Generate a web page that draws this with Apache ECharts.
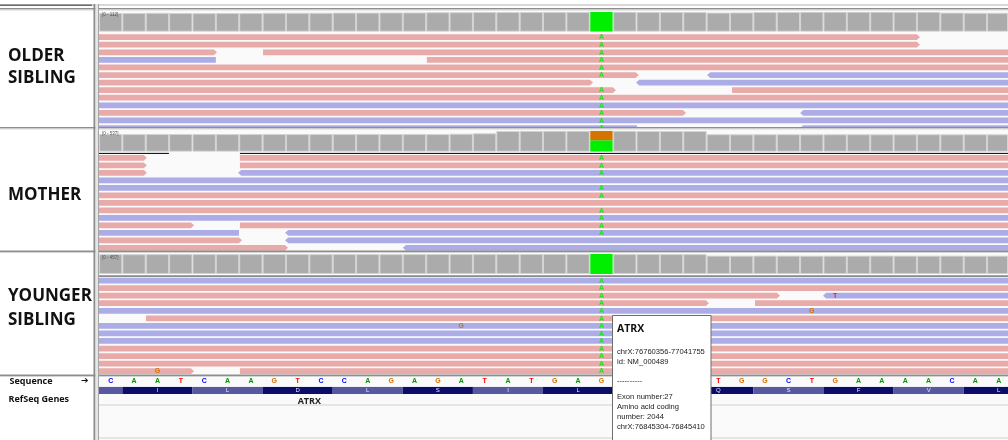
<!DOCTYPE html>
<html><head><meta charset="utf-8">
<script src="https://cdn.jsdelivr.net/npm/echarts@6/dist/echarts.min.js"></script>
<style>html,body{margin:0;padding:0;background:#fff}#c{width:1008px;height:440px}</style>
</head><body><div id="c"></div>
<script>
// ---------------- data ----------------
const panelNames = [['OLDER', 'SIBLING'], ['MOTHER'], ['YOUNGER', 'SIBLING']];
const coverageRanges = [112, 537, 457];
const coverageRangeLabels = ['[0 - 112]', '[0 - 537]', '[0 - 457]'];
const referenceSequence = ['C','A','A','T','C','A','A','G','T','C','C','A','G','A','G','A','T','A','T','G','A','G','T','G','C','T','T','G','G','C','T','G','A','A','A','A','C','A','A'];
// codon k covers bases -2+3k .. 3k
const aminoAcids = ['', 'I', 'L', 'D', 'L', 'S', 'I', 'L', 'A', 'Q', 'S', 'F', 'V', 'L'];
const variantBase = 21;
const olderCoverage = [105,105,106,105,104,105,105,106,106,106,107,107,108,108,109,109,110,110,111,111,111,112,112,111,111,110,107,108,111,111,112,112,112,112,111,112,107,106,106];
const motherCoverage = [452,450,452,453,451,450,452,452,451,452,450,452,453,452,451,460,470,530,534,536,537,537,535,532,530,528,447,445,446,447,445,446,446,445,444,446,445,446,445];
const youngerCoverage = [452,453,454,455,455,454,455,456,455,454,456,455,454,455,456,455,455,456,456,457,456,457,455,456,455,454,420,419,421,420,418,419,420,421,420,419,420,418,419];
// allele split of the variant column: [from, to, base]
const olderAlleles = [[0, 112, 'A']];
const motherAlleles = [[0, 292, 'A'], [292, 537, 'G']];
const youngerAlleles = [[0, 457, 'A']];
// reads: [start, end, row, strand (1 forward, -1 reverse)]
const olderReads = [
  [-1, 35.13, 0, 1],
  [-1, 35.13, 1, 1],
  [-1, 5.05, 2, 1], [7.02, 40, 2, 1],
  [-1, 5.0, 3, -1], [14.03, 40, 3, 1],
  [-1, 40, 4, 1],
  [-1, 23.1, 5, 1], [26.02, 40, 5, -1],
  [-1, 21.14, 6, 1], [22.98, 40, 6, -1],
  [-1, 22.12, 7, 1], [27.09, 40, 7, 1],
  [-1, 40, 8, 1],
  [-1, 40, 9, -1],
  [-1, 25.12, 10, 1], [30.0, 40, 10, -1],
  [-1, 40, 11, -1],
  [-1, 23.02, 12, -1], [30.0, 40, 12, -1]
];
const motherReads = [
  [-1, 2.05, 0, 1], [6.03, 40, 0, 1],
  [-1, 2.05, 1, 1], [6.03, 40, 1, 1],
  [-1, 2.05, 2, 1], [5.95, 40, 2, -1],
  [-1, 40, 3, -1],
  [-1, 40, 4, -1],
  [-1, 40, 5, 1],
  [-1, 40, 6, 1],
  [-1, 40, 7, 1],
  [-1, 40, 8, -1],
  [-1, 4.07, 9, 1], [6.03, 40, 9, 1],
  [-1, 5.99, 10, -1], [7.96, 40, 10, -1],
  [-1, 6.12, 11, 1], [7.96, 40, 11, -1],
  [-1, 8.09, 12, 1], [13.0, 40, 12, -1]
];
const youngerReads = [
  [-1, 40, 0, -1],
  [-1, 40, 1, 1],
  [-1, 29.14, 2, 1], [30.98, 40, 2, -1],
  [-1, 26.1, 3, 1], [28.07, 40, 3, 1],
  [-1, 40, 4, -1],
  [2.01, 40, 5, 1],
  [-1, 40, 6, -1],
  [-1, 40, 7, -1],
  [-1, 40, 8, -1],
  [-1, 40, 9, 1],
  [-1, 40, 10, 1],
  [-1, 40, 11, 1],
  [-1, 4.07, 12, 1], [6.03, 40, 12, 1]
];
const olderAltRows = [0, 1, 2, 3, 4, 5, 7, 8, 9, 10, 11, 12];
const motherAltRows = [0, 1, 2, 4, 5, 7, 8, 9, 10];
const youngerAltRows = [0, 1, 2, 3, 4, 5, 6, 7, 8, 9, 10, 11, 12];
const altBase = 'A';
const youngerOtherMismatches = [[31, 2, 'T'], [30, 4, 'G'], [15, 6, 'G'], [2, 12, 'G']];
const motherDownsampled = [[-1, 2.99], [6.03, 40]];
const youngerDownsampled = [[-1, 40]];
const geneName = 'ATRX';
const geneLabelBase = 9;
const trackNames = ['Sequence', 'RefSeq Genes'];
const popupTitle = 'ATRX';
const popupLines = ['chrX:76760356-77041755', 'id: NM_000489', '', '----------', 'Exon number:27', 'Amino acid coding', 'number: 2044', 'chrX:76845304-76845410'];

// ---------------- layout / style ----------------
const DATA_LEFT = 99, DATA_W = 909, BASE_PX = 23.37;
const XMAX = DATA_W / BASE_PX;
const FWD = '#e9aaaa', REV = '#acace7';
const BASE_COLORS = { A: '#009600', C: '#0000ff', G: '#d17105', T: '#ff0000' };
const ALT_COLORS = { A: '#22e022', C: '#3333ff', G: '#d17105', T: '#ff2020' };
const BAR_COLORS = { A: '#00ee00', G: '#d37300' };
const BAND = 0.76;
const Y0 = -0.3;

const covPanels = [
  { top: 11.7, h: 20, cov: olderCoverage, alleles: olderAlleles, max: coverageRanges[0] },
  { top: 130.7, h: 21, cov: motherCoverage, alleles: motherAlleles, max: coverageRanges[1] },
  { top: 254, h: 20, cov: youngerCoverage, alleles: youngerAlleles, max: coverageRanges[2] }
];
const readPanels = [
  { rowTop: 34.3, sp: 7.57, bottom: 127, reads: olderReads, alt: olderAltRows, other: [], down: [] },
  { rowTop: 155, sp: 7.5, bottom: 251, reads: motherReads, alt: motherAltRows, other: [], down: motherDownsampled },
  { rowTop: 277.7, sp: 7.55, bottom: 374.5, reads: youngerReads, alt: youngerAltRows, other: youngerOtherMismatches, down: youngerDownsampled }
];

const grids = [], xAxes = [], yAxes = [], series = [];
function addGrid(top, height, yMin, yMax, inverse) {
  grids.push({ left: DATA_LEFT, top: top, width: DATA_W, height: height, containLabel: false });
  const i = grids.length - 1;
  xAxes.push({ type: 'value', gridIndex: i, min: 0, max: XMAX, show: false });
  yAxes.push({ type: 'value', gridIndex: i, min: yMin, max: yMax, inverse: !!inverse, show: false });
  return i;
}
function clampX(cs, x) { return Math.max(cs.x, Math.min(cs.x + cs.width, x)); }
function clampY(cs, y) { return Math.max(cs.y, Math.min(cs.y + cs.height, y)); }

// coverage tracks
covPanels.forEach(function (p) {
  const gi = addGrid(p.top, p.h, 0, p.max, false);
  series.push({
    type: 'custom', xAxisIndex: gi, yAxisIndex: gi, clip: true, silent: true,
    data: p.cov.map(function (v, i) { return [i, v]; }),
    renderItem: function (params, api) {
      const cs = params.coordSys;
      const b = api.value(0), v = api.value(1);
      const p0 = api.coord([b, 0]), p1 = api.coord([b + 1, v]);
      const x0 = clampX(cs, p0[0]), x1 = clampX(cs, p1[0]);
      const isVar = b === variantBase;
      return { type: 'rect', shape: { x: x0 + 0.5, y: p1[1] + 0.5, width: x1 - x0 - 1, height: p0[1] - p1[1] - 1 },
        style: { fill: isVar ? 'rgba(0,0,0,0)' : '#ababab', stroke: isVar ? 'rgba(0,0,0,0)' : '#d3d3d3', lineWidth: 1 } };
    }
  });
  series.push({
    type: 'custom', xAxisIndex: gi, yAxisIndex: gi, clip: true, silent: true, z: 3,
    data: p.alleles.map(function (a) { return [variantBase, a[0], a[1]]; }),
    renderItem: function (params, api) {
      const b = api.value(0);
      const p0 = api.coord([b, api.value(1)]), p1 = api.coord([b + 1, api.value(2)]);
      const col = BAR_COLORS[p.alleles[params.dataIndex][2]];
      return { type: 'rect', shape: { x: p0[0] + 0.5, y: p1[1], width: p1[0] - p0[0] - 1, height: p0[1] - p1[1] },
        style: { fill: col } };
    }
  });
});

// read tracks
readPanels.forEach(function (p) {
  const gTop = p.rowTop + Y0 * p.sp;
  const gH = p.bottom - gTop;
  const gi = addGrid(gTop, gH, Y0, Y0 + gH / p.sp, true);
  series.push({
    type: 'custom', xAxisIndex: gi, yAxisIndex: gi, clip: true, silent: true,
    data: p.reads,
    renderItem: function (params, api) {
      const cs = params.coordSys;
      const s = api.value(0), e = api.value(1), row = api.value(2), strand = api.value(3);
      const xs = api.coord([s, row])[0], xe = api.coord([e, row])[0];
      const yt = api.coord([s, row])[1], yb = api.coord([s, row + BAND])[1];
      const top = clampY(cs, yt), bot = clampY(cs, yb);
      if (bot <= top) return null;
      const mid = (yt + yb) / 2;
      const L = clampX(cs, xs), R = clampX(cs, xe);
      const T = 3.2;
      let pts;
      if (strand > 0 && xe < cs.x + cs.width) {
        pts = [[L, top], [xe - T, top], [xe, mid], [xe - T, bot], [L, bot]];
      } else if (strand < 0 && xs > cs.x) {
        pts = [[xs, mid], [xs + T, top], [R, top], [R, bot], [xs + T, bot]];
      } else {
        pts = [[L, top], [R, top], [R, bot], [L, bot]];
      }
      return { type: 'polygon', shape: { points: pts }, style: { fill: strand > 0 ? FWD : REV } };
    }
  });
  // downsampling marks
  if (p.down.length) {
    series.push({
      type: 'custom', xAxisIndex: gi, yAxisIndex: gi, clip: true, silent: true,
      data: p.down.map(function (d) { return [d[0], d[1], -0.25]; }),
      renderItem: function (params, api) {
        const cs = params.coordSys;
        const a = api.coord([api.value(0), api.value(2)]), b = api.coord([api.value(1), api.value(2)]);
        const x0 = clampX(cs, a[0]), x1 = clampX(cs, b[0]);
        return { type: 'rect', shape: { x: x0, y: a[1] - 0.6, width: x1 - x0, height: 1.4 }, style: { fill: '#1a1a1a' } };
      }
    });
  }
  // mismatches
  const mm = p.alt.map(function (r) { return [variantBase, r, altBase]; }).concat(p.other);
  series.push({
    type: 'custom', xAxisIndex: gi, yAxisIndex: gi, clip: true, silent: true, z: 4,
    data: mm.map(function (m) { return [m[0], m[1]]; }),
    renderItem: function (params, api) {
      const b = api.value(0), r = api.value(1);
      const c = api.coord([b + 0.5, r + BAND / 2]);
      const ch = mm[params.dataIndex][2];
      return { type: 'text', style: { text: ch, x: c[0], y: c[1] + 0.3, fill: ALT_COLORS[ch],
        font: 'bold 7px "Liberation Sans", sans-serif', align: 'center', verticalAlign: 'middle' } };
    }
  });
});

// sequence track
const gs = addGrid(376, 10, 0, 1, false);
series.push({
  type: 'custom', xAxisIndex: gs, yAxisIndex: gs, clip: true, silent: true,
  data: referenceSequence.map(function (b, i) { return [i, 0.5]; }),
  renderItem: function (params, api) {
    const c = api.coord([api.value(0) + 0.5, api.value(1)]);
    const ch = referenceSequence[params.dataIndex];
    return { type: 'text', style: { text: ch, x: c[0], y: c[1], fill: BASE_COLORS[ch],
      font: 'bold 7px "Liberation Sans", sans-serif', align: 'center', verticalAlign: 'middle' } };
  }
});
// amino acid / gene track
const ga = addGrid(386.7, 7.4, 0, 1, false);
series.push({
  type: 'custom', xAxisIndex: ga, yAxisIndex: ga, clip: true, silent: true,
  data: aminoAcids.map(function (a, k) { return [-2 + 3 * k, 1 + 3 * k]; }),
  renderItem: function (params, api) {
    const cs = params.coordSys;
    const a = api.coord([api.value(0), 1]), b = api.coord([api.value(1), 0]);
    const x0 = clampX(cs, a[0]), x1 = clampX(cs, b[0]);
    const k = params.dataIndex;
    return { type: 'group', children: [
      { type: 'rect', shape: { x: x0, y: a[1], width: x1 - x0, height: b[1] - a[1] },
        style: { fill: k % 2 === 1 ? '#0c0c6a' : '#5858a0' } },
      { type: 'text', style: { text: aminoAcids[k], x: (a[0] + b[0]) / 2, y: (a[1] + b[1]) / 2 + 0.3, fill: '#e8e8ff',
        font: '6px "Liberation Sans", sans-serif', align: 'center', verticalAlign: 'middle' } }
    ] };
  }
});
const gg = addGrid(396, 10, 0, 1, false);
series.push({
  type: 'custom', xAxisIndex: gg, yAxisIndex: gg, clip: false, silent: true,
  data: [[geneLabelBase, 0.45]],
  renderItem: function (params, api) {
    const c = api.coord([api.value(0), api.value(1)]);
    return { type: 'text', style: { text: geneName, x: c[0], y: c[1], fill: '#222',
      font: 'bold 9px "Open Sans", sans-serif', align: 'center', verticalAlign: 'middle' } };
  }
});

// ---------------- static frame ----------------
const g = [];
g.push({ type: 'rect', z: -5, shape: { x: DATA_LEFT, y: 9, width: DATA_W, height: 431 }, style: { fill: '#fafafa' } });
// top strip
g.push({ type: 'rect', z: 10, shape: { x: 0, y: 4.5, width: 92, height: 1.2 }, style: { fill: '#3a3a3a' } });
g.push({ type: 'rect', z: 10, shape: { x: 92, y: 4.5, width: 916, height: 1 }, style: { fill: '#b0b0b0' } });
// horizontal separators
[8, 127, 250.5, 374.5].forEach(function (y) {
  g.push({ type: 'rect', z: 10, shape: { x: 0, y: y, width: 1008, height: 1.5 }, style: { fill: '#8e8e8e' } });
  g.push({ type: 'rect', z: 10, shape: { x: 0, y: y + 1.5, width: 1008, height: 1 }, style: { fill: '#d4d4d4' } });
});
g.push({ type: 'rect', z: 10, shape: { x: DATA_LEFT, y: 404.5, width: DATA_W, height: 1 }, style: { fill: '#cfcfcf' } });
g.push({ type: 'rect', z: 10, shape: { x: DATA_LEFT, y: 437.5, width: DATA_W, height: 1 }, style: { fill: '#cfcfcf' } });
// vertical divider
g.push({ type: 'rect', z: 10, shape: { x: 93.5, y: 4, width: 2, height: 436 }, style: { fill: '#8a8a8a' } });
g.push({ type: 'rect', z: 10, shape: { x: 95.5, y: 4, width: 2.5, height: 436 }, style: { fill: '#e6e6e6' } });
g.push({ type: 'rect', z: 10, shape: { x: 98, y: 4, width: 1, height: 436 }, style: { fill: '#a4a4a4' } });
// panel labels
const labelFont = 'bold 17px "Open Sans", sans-serif';
const labelY = [[56.3, 78], [194.7], [296, 319.7]];
panelNames.forEach(function (lines, i) {
  lines.forEach(function (t, j) {
    g.push({ type: 'text', z: 10, style: { text: t, x: 8, y: labelY[i][j], fill: '#111', font: labelFont, verticalAlign: 'middle' } });
  });
});
// coverage range labels
[12.5, 131.5, 255].forEach(function (y, i) {
  g.push({ type: 'text', z: 10, style: { text: coverageRangeLabels[i], x: 102, y: y, fill: '#555', font: '4.5px "Liberation Sans", sans-serif', verticalAlign: 'top' } });
});
// track names
g.push({ type: 'text', z: 10, style: { text: trackNames[0], x: 9.5, y: 381.5, fill: '#111', font: 'bold 9px "Open Sans", sans-serif', verticalAlign: 'middle' } });
g.push({ type: 'text', z: 10, style: { text: '\u2794', x: 81, y: 381, fill: '#111', font: 'bold 9px "DejaVu Sans", sans-serif', verticalAlign: 'middle' } });
g.push({ type: 'text', z: 10, style: { text: trackNames[1], x: 8.5, y: 399.5, fill: '#111', font: 'bold 9px "Open Sans", sans-serif', verticalAlign: 'middle' } });
// popup
g.push({ type: 'rect', z: 100, shape: { x: 612.5, y: 315.5, width: 98.5, height: 130 }, style: { fill: '#ffffff', stroke: '#6e6e6e', lineWidth: 1 } });
g.push({ type: 'text', z: 101, style: { text: popupTitle, x: 617, y: 329, fill: '#111', font: 'bold 10.5px "Open Sans", sans-serif', verticalAlign: 'middle' } });
const popupY = [352.3, 362.3, 372, 381, 396.7, 406.7, 416.7, 427.3];
popupLines.forEach(function (t, i) {
  if (!t) return;
  g.push({ type: 'text', z: 101, style: { text: t, x: 617, y: popupY[i], fill: '#222', font: '7.6px "Liberation Sans", sans-serif', verticalAlign: 'middle' } });
});

const chart = echarts.init(document.getElementById('c'), null, { renderer: 'canvas' });
chart.setOption({
  animation: false,
  backgroundColor: '#ffffff',
  grid: grids, xAxis: xAxes, yAxis: yAxes,
  series: series,
  graphic: { elements: g }
});
</script></body></html>
